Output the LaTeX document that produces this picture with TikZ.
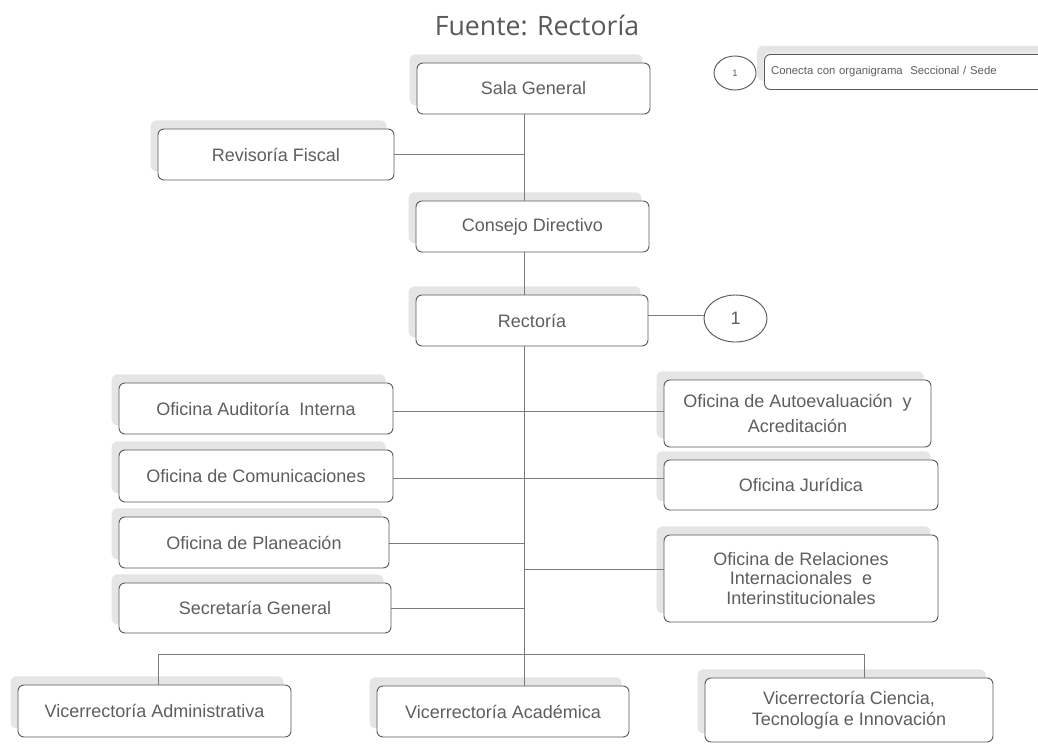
\documentclass[tikz,border=0pt]{standalone}
\usepackage{fontspec}
\setmainfont{Liberation Sans}
\newfontfamily\titlefont{Open Sans}
\usetikzlibrary{shadows,shapes.geometric}
\definecolor{txt}{HTML}{5E5E5E}
\definecolor{bord}{HTML}{5A5A5A}
\definecolor{lin}{HTML}{7A7A7A}
\begin{document}
\begin{tikzpicture}[x=0.75pt,y=-0.75pt,
  box/.style={draw=bord, fill=white, rounded corners=4.5pt, line width=0.7pt,
    align=center, text=txt, inner sep=2pt,
    font=\fontsize{13.5}{15}\selectfont,
    general shadow={fill=black!10, draw=none, shadow xshift=-5.5pt, shadow yshift=6.5pt}},
  sz/.style 2 args={minimum width=#1, minimum height=#2},
  circ/.style={draw=bord, fill=white, ellipse, line width=0.7pt, text=txt, inner sep=0pt},
  conn/.style={draw=lin, line width=0.75pt}]
\clip (0,0) rectangle (1038,743);
\fill[white] (0,0) rectangle (1038,743);

\node[font=\titlefont\fontsize{20}{24}\selectfont, text=black!65] (title) at (537,25) {Fuente: Rectoría};

% legend
\node[circ, sz={31.5pt}{25.5pt}, font=\fontsize{7}{8}\selectfont] (lc) at (735,73) {1};
\node[box, anchor=west, sz={214pt}{26.25pt}, text width=204pt, inner xsep=5pt, align=left,
  font=\fontsize{8.5}{10}\selectfont,
  general shadow={fill=black!8, draw=none, shadow xshift=-1pt, shadow yshift=2pt}] (leg) at (764,72) {Conecta con organigrama\ \ Seccional / Sede};

% top chain
\node[box, sz={174.75pt}{38.25pt}] (sala) at (533.5,88.5) {Sala General};
\node[box, sz={177pt}{38.25pt}] (rev) at (276,154.5) {Revisoría Fiscal};
\node[box, sz={174.75pt}{38.25pt}] (cons) at (532.5,226.5) {Consejo Directivo};
\node[box, sz={174pt}{38.25pt}] (rect) at (532,320.5) {Rectoría};
\node[circ, sz={47.25pt}{35.25pt}, font=\fontsize{13.5}{15}\selectfont] (c1) at (735.5,318.5) {1};

% left offices
\node[box, sz={205.5pt}{38.25pt}] (aud) at (256,408.5) {Oficina Auditoría\ \ Interna};
\node[box, sz={205.5pt}{39pt}] (com) at (256,476) {Oficina de Comunicaciones};
\node[box, sz={202.5pt}{38.25pt}] (plan) at (254,542.5) {Oficina de Planeación};
\node[box, sz={204pt}{37.5pt}] (sec) at (255,608) {Secretaría General};

% right offices
\node[box, sz={200.25pt}{50.25pt}, font=\fontsize{13.5}{18.5}\selectfont] (auto) at (797.5,413.5) {Oficina de Autoevaluación\ \ y\\Acreditación};
\node[box, sz={205.5pt}{37.5pt}] (jur) at (801,485) {Oficina Jurídica};
\node[box, sz={205.5pt}{65.25pt}, font=\fontsize{13.5}{14.8}\selectfont] (rel) at (801,578.5) {Oficina de Relaciones\\Internacionales\ \ e\\Interinstitucionales};

% vicerrectorias
\node[box, sz={204.75pt}{39pt}] (vadm) at (154.5,711) {Vicerrectoría Administrativa};
\node[box, sz={189pt}{38.25pt}] (vacad) at (503,711.5) {Vicerrectoría Académica};
\node[box, sz={216pt}{48pt}, font=\fontsize{13.5}{15.8}\selectfont] (vcien) at (849,710) {Vicerrectoría Ciencia,\\Tecnología e Innovación};

% connectors
\coordinate (sp) at (524,0);
\coordinate (bl) at (158,654);
\coordinate (br) at (864,654);
\draw[conn] (sala.south -| sp) -- (cons.north -| sp);
\draw[conn] (rev.east) -- (rev.east -| sp);
\draw[conn] (cons.south -| sp) -- (rect.north -| sp);
\draw[conn] ([yshift=3.5pt]rect.east) -- ([yshift=3.5pt]rect.east -| c1.west);
\draw[conn] (rect.south -| sp) -- (vacad.north -| sp);
\draw[conn] ([yshift=-2pt]aud.east) -- ([yshift=-2pt]aud.east -| auto.west);
\draw[conn] ([yshift=-2pt]com.east) -- ([yshift=-2pt]com.east -| jur.west);
\draw[conn] ([yshift=-1pt]plan.east) -- ([yshift=-1pt]plan.east -| sp);
\draw[conn] (sec.east) -- (sec.east -| sp);
\draw[conn] ([yshift=7pt]rel.west) -- ([yshift=7pt]rel.west -| sp);
\draw[conn] (vadm.north -| bl) -- (bl) -- (br) -- (vcien.north -| br);
\end{tikzpicture}
\end{document}
